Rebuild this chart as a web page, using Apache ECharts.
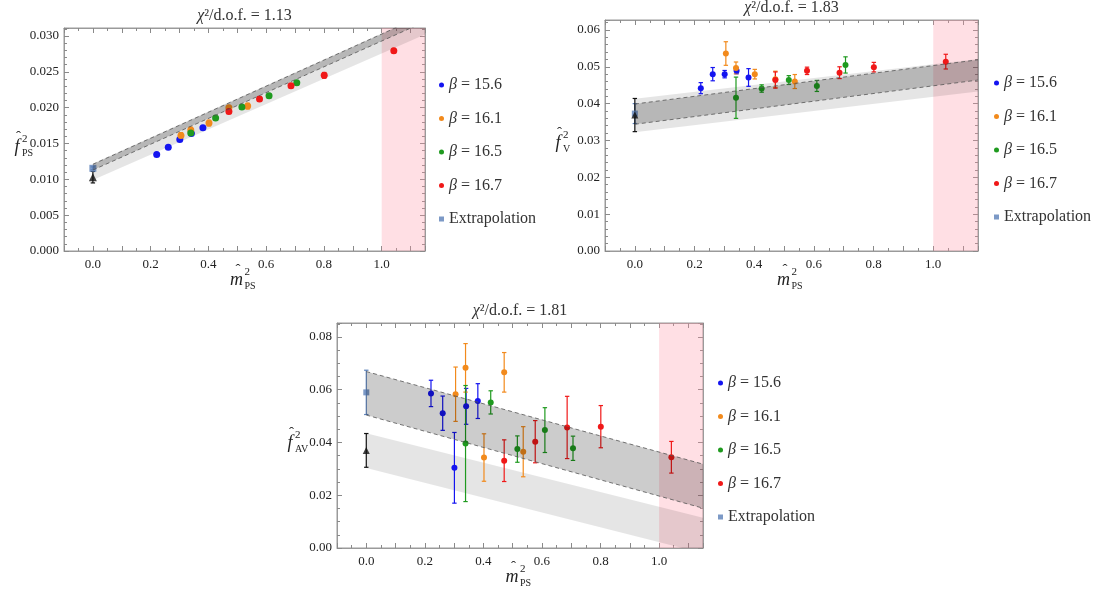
<!DOCTYPE html>
<html><head><meta charset="utf-8">
<script src="https://cdn.jsdelivr.net/npm/echarts/dist/echarts.min.js"></script>
<style>html,body{margin:0;padding:0;background:#fff}#c{width:1107px;height:595px}</style>
</head><body><div id="c"></div>
<script>
// ---------------- DATA ----------------
const betaNames = ['β = 15.6', 'β = 16.1', 'β = 16.5', 'β = 16.7'];
const extrapName = 'Extrapolation';
const chiValues = ['1.13', '1.83', '1.81'];
const ySubs = ['PS', 'V', 'AV'];

// x values (m_PS^2) per beta
const mps_156 = [0.221, 0.261, 0.301, 0.341, 0.381];
const mps_161 = [0.305, 0.339, 0.402, 0.471, 0.536];
const mps_165 = [0.339, 0.425, 0.516, 0.610, 0.706];
const mps_167 = [0.471, 0.577, 0.686, 0.801, 1.042];

// panel 1: f_PS^2
const fps_156 = [0.01347, 0.01449, 0.01556, 0.01640, 0.01720];
const fps_156_err = [0.0002, 0.0002, 0.0002, 0.0002, 0.0002];
const fps_161 = [0.01612, 0.01687, 0.01785, 0.02000, 0.02022];
const fps_161_err = [0.0004, 0.0004, 0.0004, 0.0003, 0.0004];
const fps_165 = [0.01645, 0.01855, 0.02008, 0.02167, 0.02349];
const fps_165_err = [0.0002, 0.0002, 0.0003, 0.0003, 0.0003];
const fps_167 = [0.01948, 0.02120, 0.02307, 0.02451, 0.02796];
const fps_167_err = [0.0003, 0.0003, 0.0003, 0.0004, 0.0003];
const fps_chiral = [0.0, 0.01030, 0.0008];
const fps_extrap = [0.0, 0.01154, 0.0002];
const fps_bandX = [0.0, 1.15];
const fps_dark_lo = [0.0113, 0.0320];
const fps_dark_hi = [0.0121, 0.0330];
const fps_light_lo = [0.0099, 0.0302];
const fps_light_hi = [0.0122, 0.0331];

// panel 2: f_V^2
const fv_156 = [0.0442, 0.0480, 0.0480, 0.0489, 0.0471];
const fv_156_err = [0.0015, 0.0018, 0.0010, 0.0008, 0.0024];
const fv_161 = [0.0536, 0.0497, 0.0480, 0.0466, 0.0460];
const fv_161_err = [0.0032, 0.0016, 0.0013, 0.0022, 0.0019];
const fv_165 = [0.0416, 0.0441, 0.0464, 0.0448, 0.0505];
const fv_165_err = [0.0056, 0.0010, 0.0012, 0.0015, 0.0022];
const fv_167 = [0.0464, 0.0489, 0.0484, 0.0499, 0.0514];
const fv_167_err = [0.0022, 0.0010, 0.0016, 0.0013, 0.0020];
const fv_chiral = [0.0, 0.0369, 0.0045];
const fv_extrap = [0.0, 0.0373, 0.0027];
const fv_bandX = [0.0, 1.15];
const fv_dark_lo = [0.0344, 0.0464];
const fv_dark_hi = [0.0399, 0.0519];
const fv_light_lo = [0.0322, 0.0433];
const fv_light_hi = [0.0413, 0.0521];

// panel 3: f_AV^2
const fav_156 = [0.0586, 0.0511, 0.0304, 0.0537, 0.0557];
const fav_156_err = [0.0050, 0.0065, 0.0134, 0.0068, 0.0066];
const fav_161 = [0.0583, 0.0683, 0.0343, 0.0666, 0.0365];
const fav_161_err = [0.0103, 0.0092, 0.0090, 0.0075, 0.0095];
const fav_165 = [0.0396, 0.0552, 0.0375, 0.0447, 0.0378];
const fav_165_err = [0.0220, 0.0044, 0.0050, 0.0085, 0.0046];
const fav_167 = [0.0331, 0.0403, 0.0457, 0.0460, 0.0344];
const fav_167_err = [0.0079, 0.0080, 0.0118, 0.0080, 0.0060];
const fav_chiral = [0.0, 0.0370, 0.0064];
const fav_extrap = [0.0, 0.0590, 0.0084];
const fav_bandX = [0.0, 1.15];
const fav_dark_lo = [0.0504, 0.0151];
const fav_dark_hi = [0.0669, 0.0318];
const fav_light_lo = [0.0303, -0.0020];
const fav_light_hi = [0.0435, 0.0115];

// axes
const xMin = -0.1, xMax = 1.15, xTickStep = 0.1, xLabelStep = 0.2;
const yMaxes = [0.03112, 0.0627, 0.0853];
const yTickSteps = [0.005, 0.01, 0.02];
const yDecimals = [3, 2, 2];
const yMinorSplit = [5, 5, 4];
const cutoffX = 1.0;

// ---------------- STYLE / LAYOUT ----------------
const betaColors = ['#1414f0', '#f28a1c', '#1f9a1f', '#f01818'];
const extrapColor = '#5b80b8';
const FONT = '"Liberation Serif", "DejaVu Serif", serif';
const grids = [
  { left: 64, top: 28, width: 361, height: 223 },
  { left: 605, top: 20, width: 373, height: 231 },
  { left: 337, top: 323, width: 366, height: 225 }
];
const legendPos = [{ left: 434, top: 70 }, { left: 989, top: 68 }, { left: 713, top: 368 }];
const symSizes = [7, 6, 6];

const panels = [
  { xs: [mps_156, mps_161, mps_165, mps_167], ys: [fps_156, fps_161, fps_165, fps_167],
    es: [fps_156_err, fps_161_err, fps_165_err, fps_167_err], chiral: fps_chiral, extrap: fps_extrap,
    bx: fps_bandX, dlo: fps_dark_lo, dhi: fps_dark_hi, llo: fps_light_lo, lhi: fps_light_hi },
  { xs: [mps_156, mps_161, mps_165, mps_167], ys: [fv_156, fv_161, fv_165, fv_167],
    es: [fv_156_err, fv_161_err, fv_165_err, fv_167_err], chiral: fv_chiral, extrap: fv_extrap,
    bx: fv_bandX, dlo: fv_dark_lo, dhi: fv_dark_hi, llo: fv_light_lo, lhi: fv_light_hi },
  { xs: [mps_156, mps_161, mps_165, mps_167], ys: [fav_156, fav_161, fav_165, fav_167],
    es: [fav_156_err, fav_161_err, fav_165_err, fav_167_err], chiral: fav_chiral, extrap: fav_extrap,
    bx: fav_bandX, dlo: fav_dark_lo, dhi: fav_dark_hi, llo: fav_light_lo, lhi: fav_light_hi }
];

function errRender(params, api) {
  const x = api.value(0), y = api.value(1), e = api.value(2);
  const t = api.coord([x, y + e]), b = api.coord([x, y - e]);
  const c = api.visual('color');
  const w = 2.2;
  const st = { stroke: c, lineWidth: 1.2 };
  return { type: 'group', children: [
    { type: 'line', shape: { x1: t[0], y1: t[1], x2: b[0], y2: b[1] }, style: st },
    { type: 'line', shape: { x1: t[0] - w, y1: t[1], x2: t[0] + w, y2: t[1] }, style: st },
    { type: 'line', shape: { x1: b[0] - w, y1: b[1], x2: b[0] + w, y2: b[1] }, style: st }
  ]};
}
function bandSeries(p, bx, lo, hi, fill, z) {
  return {
    type: 'custom', name: 'band', xAxisIndex: 2 * p, yAxisIndex: 2 * p, clip: true, z: z, silent: true,
    data: [[bx[0], lo[0], hi[0]]],
    renderItem: function (params, api) {
      const pts = [api.coord([bx[0], lo[0]]), api.coord([bx[1], lo[1]]), api.coord([bx[1], hi[1]]), api.coord([bx[0], hi[0]])];
      return { type: 'polygon', shape: { points: pts }, style: { fill: fill } };
    }
  };
}
function isMult(v, step) { const k = v / step; return Math.abs(k - Math.round(k)) < 1e-6; }

const xAxes = [], yAxes = [], series = [], legends = [], graphics = [];
const tickStyle = { lineStyle: { color: '#8a8a8a', width: 1 } };
panels.forEach((P, p) => {
  const axLine = { show: true, onZero: false, lineStyle: { color: '#9a9a9a', width: 1 } };
  const xBase = { type: 'value', gridIndex: p, min: xMin, max: xMax, interval: xTickStep, splitLine: { show: false },
    axisLine: axLine, axisTick: Object.assign({ inside: true, length: 5 }, tickStyle),
    minorTick: { show: true, splitNumber: 2, length: 3, lineStyle: { color: '#8a8a8a' } } };
  xAxes.push(Object.assign({}, xBase, { position: 'bottom',
    axisLabel: { margin: 7, fontFamily: FONT, fontSize: 13, color: '#222',
      formatter: v => (isMult(v, xLabelStep) && v >= -1e-9) ? (Math.round(v / xLabelStep) * xLabelStep).toFixed(1) : '' } }));
  xAxes.push(Object.assign({}, xBase, { position: 'top', axisLabel: { show: false } }));
  const yBase = { type: 'value', gridIndex: p, min: 0, max: yMaxes[p], interval: yTickSteps[p], splitLine: { show: false },
    axisLine: axLine, axisTick: Object.assign({ inside: true, length: 5 }, tickStyle),
    minorTick: { show: true, splitNumber: yMinorSplit[p], length: 3, lineStyle: { color: '#8a8a8a' } } };
  yAxes.push(Object.assign({}, yBase, { position: 'left',
    axisLabel: { margin: 5, fontFamily: FONT, fontSize: 13, color: '#222',
      formatter: v => isMult(v, yTickSteps[p]) ? (Math.round(v / yTickSteps[p]) * yTickSteps[p]).toFixed(yDecimals[p]) : '' } }));
  yAxes.push(Object.assign({}, yBase, { position: 'right', axisLabel: { show: false } }));

  // light band (below points)
  series.push(bandSeries(p, P.bx, P.llo, P.lhi, 'rgba(0,0,0,0.10)', 1));
  // points + errors
  for (let b = 0; b < 4; b++) {
    series.push({ type: 'custom', name: 'err' + b, xAxisIndex: 2 * p, yAxisIndex: 2 * p, z: 3, silent: true,
      itemStyle: { color: betaColors[b] }, renderItem: errRender,
      data: P.xs[b].map((x, i) => [x, P.ys[b][i], P.es[b][i]]) });
    series.push({ type: 'scatter', name: betaNames[b], xAxisIndex: 2 * p, yAxisIndex: 2 * p, z: 4,
      symbol: 'circle', symbolSize: symSizes[p], itemStyle: { color: betaColors[b], opacity: 1 },
      data: P.xs[b].map((x, i) => [x, P.ys[b][i]]) });
  }
  series.push({ type: 'custom', name: 'errE', xAxisIndex: 2 * p, yAxisIndex: 2 * p, z: 3, silent: true,
    itemStyle: { color: extrapColor }, renderItem: errRender, data: [P.extrap] });
  series.push({ type: 'scatter', name: extrapName, xAxisIndex: 2 * p, yAxisIndex: 2 * p, z: 4,
    symbol: 'rect', symbolSize: symSizes[p], itemStyle: { color: extrapColor }, data: [[P.extrap[0], P.extrap[1]]] });
  series.push({ type: 'custom', name: 'errC', xAxisIndex: 2 * p, yAxisIndex: 2 * p, z: 3, silent: true,
    itemStyle: { color: '#111' }, renderItem: errRender, data: [P.chiral] });
  series.push({ type: 'scatter', name: 'chiral', xAxisIndex: 2 * p, yAxisIndex: 2 * p, z: 4,
    symbol: 'triangle', symbolSize: symSizes[p] + 1, itemStyle: { color: '#111' }, data: [[P.chiral[0], P.chiral[1]]] });
  // dark band over points
  series.push(bandSeries(p, P.bx, P.dlo, P.dhi, 'rgba(0,0,0,0.20)', 5));
  // dashed edges
  [P.dlo, P.dhi].forEach((edge, k) => {
    const s = { type: 'line', name: 'edge', xAxisIndex: 2 * p, yAxisIndex: 2 * p, z: 6, silent: true, clip: true,
      symbol: 'none', lineStyle: { type: [4, 3], color: '#555', width: 0.8 },
      data: [[P.bx[0], edge[0]], [P.bx[1], edge[1]]] };
    if (k === 0) {
      s.markArea = { silent: true, itemStyle: { color: 'rgba(255,150,165,0.30)' },
        data: [[{ xAxis: cutoffX }, { xAxis: xMax }]] };
    }
    series.push(s);
  });

  legends.push({ left: legendPos[p].left, top: legendPos[p].top, orient: 'vertical', itemGap: 13.5,
    itemWidth: 5, itemHeight: 5, selectedMode: false,
    formatter: name => name.startsWith('β') ? '{i|β}' + name.slice(1) : name,
    textStyle: { fontFamily: FONT, fontSize: 16, color: '#333', lineHeight: 20,
      rich: { i: { fontFamily: FONT, fontSize: 16, fontStyle: 'italic', color: '#333', lineHeight: 20 } } },
    data: betaNames.map(n => ({ name: n, icon: 'circle' })).concat([{ name: extrapName, icon: 'rect' }]) });

  const g = grids[p];
  graphics.push({ type: 'text', x: g.left + g.width / 2, y: g.top - 12,
    style: { text: '{i|χ}²/d.o.f. = ' + chiValues[p], font: '16px ' + FONT, fill: '#333', align: 'center', verticalAlign: 'middle',
      rich: { i: { fontFamily: FONT, fontSize: 16, fontStyle: 'italic', fill: '#333' } } } });
});

function sym(cx, cy, letter, sub) {
  return { type: 'group', x: cx, y: cy, children: [
    { type: 'text', x: 0, y: 0, style: { text: letter, font: 'italic 18px ' + FONT, fill: '#222', align: 'center', verticalAlign: 'middle' } },
    { type: 'text', x: 1.5, y: -10, style: { text: 'ˆ', font: '15px ' + FONT, fill: '#222', align: 'center', verticalAlign: 'middle' } },
    { type: 'text', x: letter === 'm' ? 8 : 5, y: -8, style: { text: '2', font: '11px ' + FONT, fill: '#222', align: 'left', verticalAlign: 'middle' } },
    { type: 'text', x: letter === 'm' ? 8 : 5, y: 6, style: { text: sub, font: '10px ' + FONT, fill: '#222', align: 'left', verticalAlign: 'middle' } }
  ]};
}
grids.forEach((g, p) => {
  graphics.push(sym(g.left + g.width / 2 - 8, g.top + g.height + 29, 'm', 'PS'));
  graphics.push(sym(g.left - 47, g.top + g.height / 2 + 8, 'f', ySubs[p]));
});

const chart = echarts.init(document.getElementById('c'), null, { renderer: 'canvas' });
chart.setOption({
  backgroundColor: '#fff',
  animation: false,
  grid: grids.map(g => Object.assign({ show: true, borderColor: '#9a9a9a', borderWidth: 1, backgroundColor: 'transparent' }, g)),
  xAxis: xAxes,
  yAxis: yAxes,
  legend: legends,
  series: series,
  graphic: graphics
});
</script></body></html>
